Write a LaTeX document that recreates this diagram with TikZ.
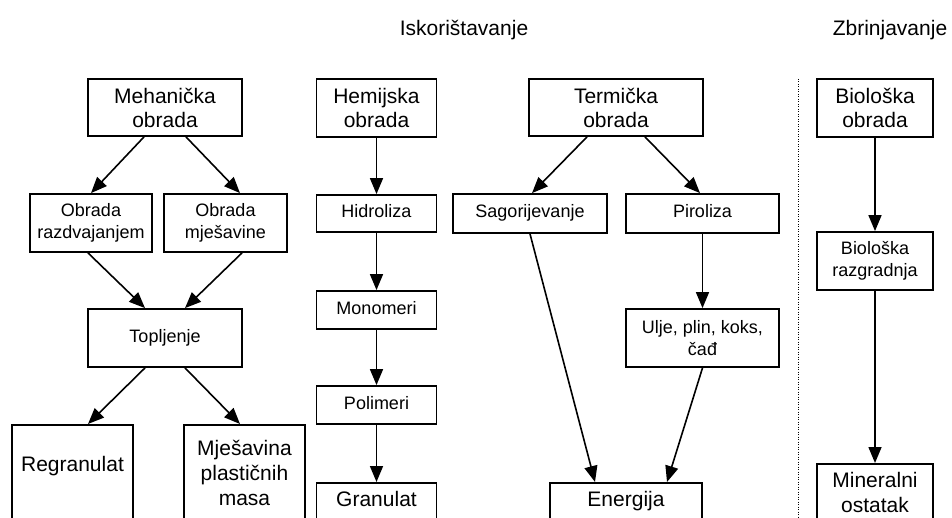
\documentclass[tikz,border=0pt]{standalone}
\usepackage{fontspec}
\setmainfont{Liberation Sans}
\usepackage{tikz}
\usetikzlibrary{arrows.meta}
\tikzstyle{box}=[draw,rectangle,line width=1.8pt,align=center,inner sep=0pt]
\tikzstyle{big}=[font=\fontsize{21}{24}\selectfont]
\tikzstyle{small}=[font=\fontsize{18}{22}\selectfont]
\tikzstyle{one}=[text height=13pt,text depth=4pt]
\tikzstyle{arr}=[->,>={Triangle[length=16pt,width=13pt]},line width=1.6pt]

\begin{document}
\begin{tikzpicture}[x=1pt,y=-1pt]
\useasboundingbox (0,0) rectangle (952,518);
% naslovi
\node (isk)[big,anchor=base] at (464,36) {Iskorištavanje};
\node (zbr)[big,anchor=base] at (890,36) {Zbrinjavanje};
% mehanicka obrada
\node (meh)[box,big,minimum width=154,minimum height=57] at (165,107.5) {Mehanička\\obrada};
\node (raz)[box,small,minimum width=122,minimum height=58] at (91,223) {Obrada\\razdvajanjem};
\node (mje)[box,small,minimum width=123,minimum height=58] at (225.5,223) {Obrada\\mješavine};
\node (top)[box,small,one,minimum width=154,minimum height=58] at (165,338) {Topljenje};
\node (reg)[box,big,anchor=north,minimum width=121,text height=46.5pt,text depth=80pt] at (72.5,424) {Regranulat};
\node (mjp)[box,font=\fontsize{21}{25}\selectfont,anchor=north,minimum width=121,text height=80.5pt,text depth=40pt] at (244.5,424) {Mješavina\\plastičnih\\masa};
% hemijska obrada
\node (hem)[box,big,minimum width=120,minimum height=58] at (376.5,108) {Hemijska\\obrada};
\node (hid)[box,small,one,minimum width=120,minimum height=37] at (376.5,213.5) {Hidroliza};
\node (mon)[box,small,one,minimum width=120,minimum height=38] at (376.5,310) {Monomeri};
\node (pol)[box,small,one,minimum width=120,minimum height=38] at (376.5,405) {Polimeri};
\node (gra)[box,big,anchor=north,minimum width=120,text height=23.5pt,text depth=40pt] at (376.5,482) {Granulat};
% termicka obrada
\node (ter)[box,big,minimum width=174,minimum height=57] at (616,107.5) {Termička\\obrada};
\node (sag)[box,small,one,minimum width=154,minimum height=39] at (530,213.5) {Sagorijevanje};
\node (pir)[box,small,one,minimum width=153,minimum height=39] at (702.5,213.5) {Piroliza};
\node (ulj)[box,small,minimum width=153,minimum height=58] at (702.5,338) {Ulje, plin, koks,\\čađ};
\node (ene)[box,big,anchor=north,minimum width=152,text height=23.5pt,text depth=40pt] at (626,482) {Energija};
% bioloska obrada
\node (bio)[box,big,minimum width=116,minimum height=58] at (875,108) {Biološka\\obrada};
\node (brg)[box,small,minimum width=116,minimum height=58] at (875,261) {Biološka\\razgradnja};
\node (min)[box,font=\fontsize{21}{25}\selectfont,anchor=north,minimum width=116,text height=48.5pt,text depth=30pt] at (875,463) {Mineralni\\ostatak};
% granica
\coordinate (d1) at (798,79);
\coordinate (d2) at (798,518);
\draw[line width=1pt,dash pattern=on 1pt off 1.5pt] (d1)--(d2);
% strelice
\draw[arr] ([xshift=-21pt]meh.south)--(raz.north);
\draw[arr] ([xshift=21pt]meh.south)--([xshift=14.5pt]mje.north);
\draw[arr] ([xshift=-3pt]raz.south)--([xshift=-20pt]top.north);
\draw[arr] ([xshift=16.5pt]mje.south)--([xshift=20pt]top.north);
\draw[arr] ([xshift=-20pt]top.south)--([xshift=15.5pt]reg.north);
\draw[arr] ([xshift=20pt]top.south)--([xshift=-4.5pt]mjp.north);
\draw[arr] (hem)--(hid);
\draw[arr] (hid)--(mon);
\draw[arr] (mon)--(pol);
\draw[arr] (pol)--(gra);
\draw[arr] ([xshift=-29pt]ter.south)--([xshift=2pt]sag.north);
\draw[arr] ([xshift=29pt]ter.south)--([xshift=-2.5pt]pir.north);
\draw[arr] (sag.south)--([xshift=-31pt]ene.north);
\draw[arr] (pir)--(ulj);
\draw[arr] (ulj.south)--([xshift=41pt]ene.north);
\draw[arr] (bio)--(brg);
\draw[arr] (brg)--(min);
\end{tikzpicture}
\end{document}
